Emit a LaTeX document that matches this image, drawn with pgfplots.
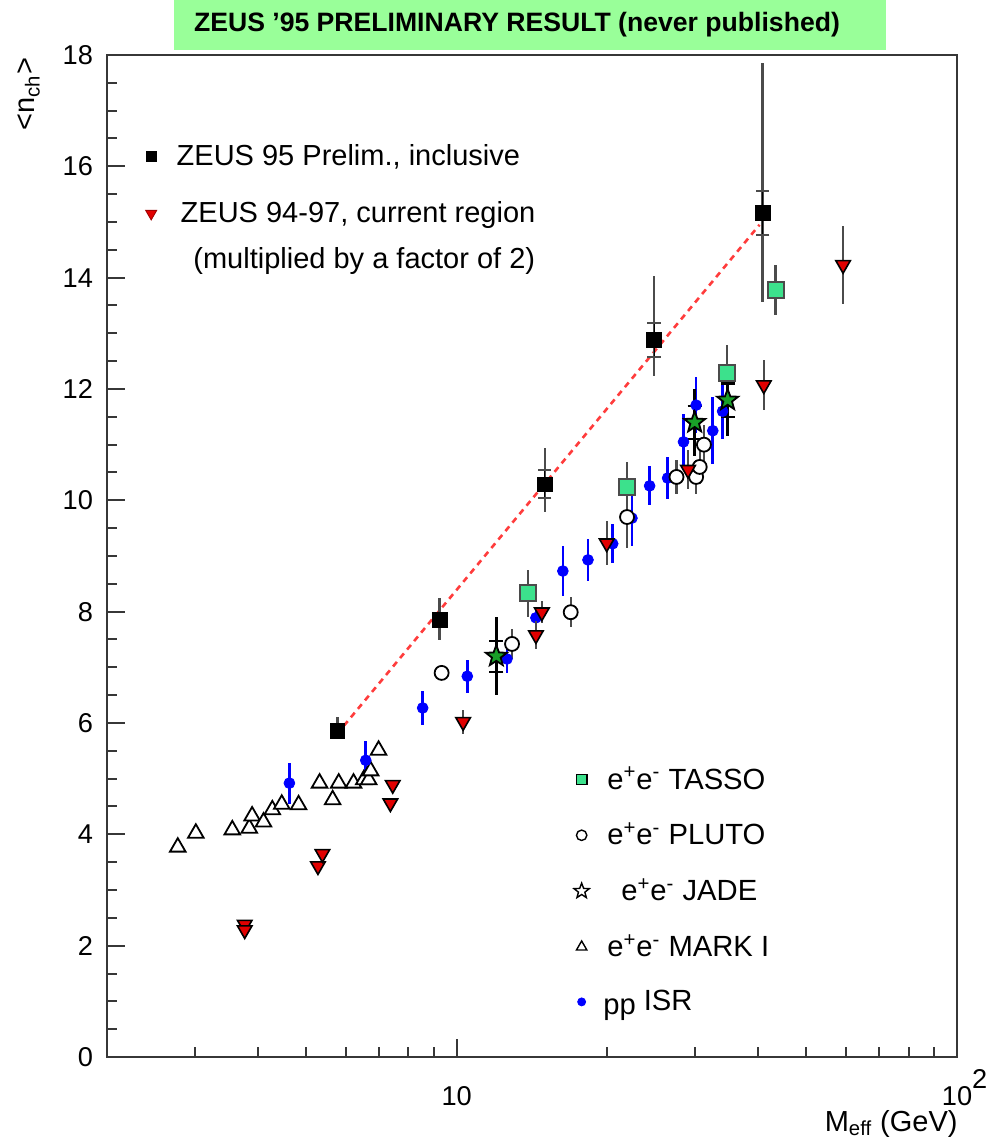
\documentclass[border=0pt]{standalone}
\usepackage{fontspec}
\setmainfont{Liberation Sans}
\usepackage{pgfplots}
\pgfplotsset{compat=1.18}

\definecolor{titlegreen}{RGB}{153,255,153}
\definecolor{tassogreen}{RGB}{60,225,140}
\definecolor{jadegreen}{RGB}{25,160,40}
\definecolor{zeusred}{RGB}{225,0,0}
\definecolor{framegray}{RGB}{55,55,55}
\definecolor{errgray}{RGB}{75,75,75}
\definecolor{fitred}{RGB}{255,60,60}

% five-pointed star, filled and outlined
\pgfdeclareplotmark{fstar}{%
  \pgfpathmoveto{\pgfpointpolar{90}{\pgfplotmarksize}}%
  \pgfpathlineto{\pgfpointpolar{126}{0.42\pgfplotmarksize}}%
  \pgfpathlineto{\pgfpointpolar{162}{\pgfplotmarksize}}%
  \pgfpathlineto{\pgfpointpolar{198}{0.42\pgfplotmarksize}}%
  \pgfpathlineto{\pgfpointpolar{234}{\pgfplotmarksize}}%
  \pgfpathlineto{\pgfpointpolar{270}{0.42\pgfplotmarksize}}%
  \pgfpathlineto{\pgfpointpolar{306}{\pgfplotmarksize}}%
  \pgfpathlineto{\pgfpointpolar{342}{0.42\pgfplotmarksize}}%
  \pgfpathlineto{\pgfpointpolar{18}{\pgfplotmarksize}}%
  \pgfpathlineto{\pgfpointpolar{54}{0.42\pgfplotmarksize}}%
  \pgfpathclose
  \pgfusepathqfillstroke}

\begin{document}
\begin{tikzpicture}
\path[use as bounding box] (0,0) rectangle (498pt,570pt);

% title banner
\fill[titlegreen] (87pt,545pt) rectangle (443pt,570pt);
\node[font=\bfseries\fontsize{13.3}{15}\selectfont] at (258.5pt,557.5pt)
  {ZEUS ’95 PRELIMINARY RESULT (never published)};

% reference measurements: e+e- and pp
\begin{axis}[
  at={(53.5pt,41.5pt)}, anchor=south west,
  scale only axis, width=425pt, height=501pt,
  xmode=log, xmin=2, xmax=100, ymin=0, ymax=18,
  axis line style={framegray, line width=1.1pt},
  tick pos=left,
  xtick={10,100},
  xticklabels={10, 10\rlap{\smash{\raisebox{1.15ex}{2}}}},
  minor xtick={2,3,4,5,6,7,8,9,20,30,40,50,60,70,80,90},
  ytick={0,2,...,18}, minor y tick num=3,
  major tick length=9pt, minor tick length=5pt,
  every tick/.style={framegray, line width=1pt},
  /pgf/number format/assume math mode=true,
  tick label style={font=\fontsize{13.6}{15}\selectfont},
  xticklabel style={yshift=-11pt},
  yticklabel style={xshift=-3.5pt},
  ylabel={\textless n\textsubscript{ch}\textgreater},
  ylabel style={at={(axis description cs:-0.092,1.004)}, anchor=east,
    font=\fontsize{14.5}{16}\selectfont},
  xlabel={M\textsubscript{eff} (GeV)},
  xlabel style={at={(axis description cs:1.009,0)}, anchor=north east,
    yshift=-23pt, font=\fontsize{14.5}{16}\selectfont},
  legend cell align=left,
  legend style={at={(axis description cs:0.549,0.294)}, anchor=north west,
    draw=none, fill=none, inner sep=0pt, row sep=11.3pt, column sep=7pt,
    font=\fontsize{14.6}{16}\selectfont},
]

% MARK I
\addplot[forget plot, only marks, mark=triangle*, mark size=4.5pt,
  mark options={fill=white, draw=black, line width=0.9pt}]
  table {
x y
2.77 3.77
3.01 4.02
3.56 4.08
3.85 4.11
3.90 4.33
4.11 4.22
4.28 4.44
4.47 4.54
4.83 4.53
5.32 4.92
5.65 4.62
5.81 4.92
6.22 4.92
6.52 4.98
6.67 4.98
6.73 5.14
6.98 5.51
};

% pp ISR
\addplot[forget plot, only marks, mark=*, mark size=2.7pt, blue,
  error bars/.cd, y dir=both, y explicit, error mark=none,
  error bar style={blue, line width=1.3pt}]
  table[x=x, y=y, y error=e] {
x y e
4.63 4.92 0.37
6.58 5.33 0.34
8.55 6.27 0.30
10.5 6.84 0.30
12.6 7.15 0.25
14.4 7.89 0.20
16.3 8.73 0.45
18.3 8.93 0.38
20.5 9.22 0.35
22.4 9.68 0.50
24.3 10.26 0.35
26.4 10.40 0.38
28.4 11.05 0.50
30.1 11.71 0.50
32.5 11.25 0.60
34.0 11.60 0.50
};

% PLUTO
\addplot[forget plot, only marks, mark=*, mark size=3.5pt,
  mark options={fill=white, draw=black, line width=0.9pt},
  error bars/.cd, y dir=both, y explicit, error mark=none,
  error bar style={errgray, line width=1.2pt}]
  table[x=x, y=y, y error=e] {
x y e
9.33 6.90 0.00
12.9 7.42 0.27
16.9 7.99 0.27
21.9 9.70 0.55
27.5 10.42 0.30
30.1 10.42 0.30
30.6 10.60 0.30
31.2 11.00 0.35
};

% TASSO
\addplot[forget plot, only marks, mark=square*, mark size=4pt,
  mark options={fill=tassogreen, draw=errgray, line width=0.9pt},
  error bars/.cd, y dir=both, y explicit, error mark=none,
  error bar style={errgray, line width=1.2pt}]
  table[x=x, y=y, y error=e] {
x y e
13.9 8.33 0.42
21.9 10.24 0.45
34.7 12.29 0.50
43.4 13.78 0.45
};

% JADE: total errors, then statistical crossbars
\addplot[forget plot, only marks, mark=fstar, mark size=5.5pt,
  mark options={fill=jadegreen, draw=black, line width=0.9pt},
  error bars/.cd, y dir=both, y explicit, error mark=none,
  error bar style={black, line width=1.2pt}]
  table[x=x, y=y, y error=e] {
x y e
12.0 7.20 0.70
29.9 11.40 0.60
34.8 11.80 0.65
};
\addplot[forget plot, draw=none, mark=none,
  error bars/.cd, y dir=both, y explicit,
  error mark options={rotate=90, mark size=3.5pt, black, line width=1.1pt},
  error bar style={draw=none}]
  table[x=x, y=y, y error=e] {
x y e
12.0 7.20 0.28
29.9 11.40 0.30
34.8 11.80 0.30
};

% legend
\addlegendimage{only marks, mark=square*, mark size=2.6pt,
  mark options={fill=tassogreen, draw=black, line width=0.7pt}}
\addlegendentry{e\textsuperscript{+}e\textsuperscript{-} TASSO}
\addlegendimage{only marks, mark=*, mark size=2.6pt,
  mark options={fill=white, draw=black, line width=0.7pt}}
\addlegendentry{e\textsuperscript{+}e\textsuperscript{-} PLUTO}
\addlegendimage{only marks, mark=fstar, mark size=4pt,
  mark options={fill=white, draw=black, line width=0.7pt}}
\addlegendentry{\hspace*{7pt}e\textsuperscript{+}e\textsuperscript{-} JADE}
\addlegendimage{only marks, mark=triangle*, mark size=3pt,
  mark options={fill=white, draw=black, line width=0.7pt}}
\addlegendentry{e\textsuperscript{+}e\textsuperscript{-} MARK I}
\addlegendimage{only marks, mark=*, mark size=2pt, blue}
\addlegendentry{\hspace*{-2pt}\raisebox{-0.25ex}{pp} ISR}
\end{axis}

% ZEUS measurements on top
\begin{axis}[
  at={(53.5pt,41.5pt)}, anchor=south west,
  scale only axis, width=425pt, height=501pt,
  xmode=log, xmin=2, xmax=100, ymin=0, ymax=18,
  hide axis, clip=false,
  legend cell align=left,
  legend style={at={(axis description cs:0.045,0.915)}, anchor=north west,
    draw=none, fill=none, inner sep=0pt, row sep=12.5pt, column sep=8pt,
    font=\fontsize{14.5}{16}\selectfont},
]

% line through the inclusive points
\addplot[forget plot, fitred, line width=1.3pt, dash pattern=on 3pt off 2.5pt]
  coordinates {(5.95,5.95) (40.3,14.95)};

% ZEUS 94-97, current region (x2)
\addplot[forget plot, only marks, mark=triangle*, mark size=4.2pt,
  mark options={rotate=180, fill=zeusred, draw=black, line width=0.8pt},
  error bars/.cd, y dir=both, y explicit, error mark=none,
  error bar style={errgray, line width=1.2pt}]
  table[x=x, y=y, y error=e] {
x y e
3.77 2.38 0.00
3.77 2.28 0.00
5.28 3.43 0.00
5.39 3.65 0.00
7.37 4.56 0.00
7.45 4.89 0.00
10.3 6.02 0.22
14.4 7.58 0.25
14.8 7.99 0.20
19.95 9.23 0.40
29.0 10.55 0.35
41.1 12.07 0.45
59.2 14.23 0.70
};

% ZEUS 95 inclusive: total errors, then statistical crossbars
\addplot[forget plot, only marks, mark=square*, mark size=3.6pt, black,
  error bars/.cd, y dir=both, y explicit, error mark=none,
  error bar style={errgray, line width=1.3pt}]
  table[x=x, y=y, y error plus=ep, y error minus=em] {
x y ep em
5.78 5.86 0.25 0.15
9.25 7.85 0.40 0.36
15.0 10.29 0.65 0.50
24.8 12.88 1.15 0.65
40.9 15.16 2.70 1.60
};
\addplot[forget plot, draw=none, mark=none,
  error bars/.cd, y dir=both, y explicit,
  error mark options={rotate=90, mark size=3.3pt, errgray, line width=1.1pt},
  error bar style={draw=none}]
  table[x=x, y=y, y error=e] {
x y e
15.0 10.29 0.25
24.8 12.88 0.30
40.9 15.16 0.40
};

\addlegendimage{only marks, mark=square*, mark size=2.4pt, black}
\addlegendentry{ZEUS 95 Prelim., inclusive}
\addlegendimage{only marks, mark=triangle*, mark size=3.2pt,
  mark options={rotate=180, fill=zeusred, draw=zeusred!70!black}}
\addlegendentry{\hspace*{2pt}ZEUS 94-97, current region}

% second line of the current-region legend entry
\node[anchor=west, inner sep=0pt, font=\fontsize{14.5}{16}\selectfont]
  at (axis description cs:0.1012,0.794) {(multiplied by a factor of 2)};
\end{axis}
\end{tikzpicture}
\end{document}
